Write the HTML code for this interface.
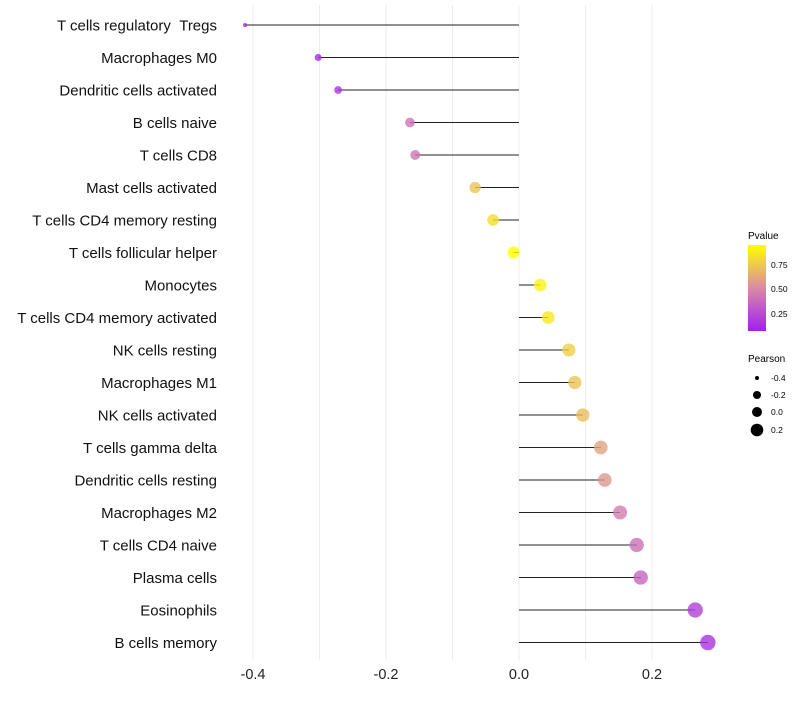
<!DOCTYPE html>
<html><head><meta charset="utf-8"><style>
body{margin:0;background:#fff;font-family:"Liberation Sans",sans-serif}
</style></head><body>
<svg id="chart" width="800" height="700" xmlns="http://www.w3.org/2000/svg" font-family="Liberation Sans, sans-serif">
<defs><linearGradient id="pg" x1="0" y1="1" x2="0" y2="0">
<stop offset="0" stop-color="#a020f0"/><stop offset="0.5" stop-color="#d98aa6"/><stop offset="1" stop-color="#ffff00"/>
</linearGradient></defs>
<g id="grid"></g><g id="marks"></g><g id="labels"></g><g id="ticks"></g>
<g>
<text x="748" y="239" font-size="10">Pvalue</text>
<rect x="748" y="245" width="18" height="86" fill="url(#pg)"/>
<text x="771" y="268" font-size="8.5">0.75</text>
<text x="771" y="292" font-size="8.5">0.50</text>
<text x="771" y="317" font-size="8.5">0.25</text>
</g>
<g>
<text x="748" y="362" font-size="10">Pearson</text>
<circle cx="757" cy="378" r="2"/><text x="771" y="381" font-size="8.5">-0.4</text>
<circle cx="757" cy="395" r="4"/><text x="771" y="398" font-size="8.5">-0.2</text>
<circle cx="757" cy="412" r="5"/><text x="771" y="415" font-size="8.5">0.0</text>
<circle cx="757" cy="430" r="6.3"/><text x="771" y="433" font-size="8.5">0.2</text>
</g>
</svg>
<script>
const categories=["T cells regulatory\u00a0\u00a0Tregs","Macrophages M0","Dendritic cells activated","B cells naive","T cells CD8","Mast cells activated","T cells CD4 memory resting","T cells follicular helper","Monocytes","T cells CD4 memory activated","NK cells resting","Macrophages M1","NK cells activated","T cells gamma delta","Dendritic cells resting","Macrophages M2","T cells CD4 naive","Plasma cells","Eosinophils","B cells memory"];
const pearson=[-0.412,-0.302,-0.272,-0.164,-0.156,-0.066,-0.039,-0.008,0.032,0.044,0.075,0.084,0.096,0.123,0.129,0.152,0.177,0.183,0.265,0.284];
const pvalue=[0.08,0.12,0.15,0.42,0.42,0.72,0.82,0.95,0.9,0.86,0.76,0.72,0.7,0.6,0.56,0.45,0.4,0.35,0.2,0.15];
const xTicks=[-0.4,-0.2,0.0,0.2];
const xTickLabels=["-0.4","-0.2","0.0","0.2"];
const minorTicks=[-0.3,-0.1,0.1];
const NS="http://www.w3.org/2000/svg";
const x=v=>519+v*665;
const y=i=>25+i*32.5;
function mk(t,a,p){const e=document.createElementNS(NS,t);for(const k in a)e.setAttribute(k,a[k]);p.appendChild(e);return e;}
function lerp(a,b,t){return a.map((v,i)=>Math.round(v+(b[i]-v)*t));}
function col(p){const t=Math.max(0,Math.min(1,(p-0.07)/(0.94-0.07)));const A=[160,32,240],M=[217,138,166],Y=[255,255,0];const c=t<0.5?lerp(A,M,t*2):lerp(M,Y,(t-0.5)*2);return `rgb(${c})`;}
const grid=document.getElementById('grid'),marks=document.getElementById('marks'),labels=document.getElementById('labels'),ticks=document.getElementById('ticks');
minorTicks.concat(xTicks).forEach(v=>{const l=mk('line',{x1:x(v),x2:x(v),y1:5,y2:660,stroke:'#ececec','stroke-width':1},grid);

});
xTicks.forEach((v,i)=>{const t=mk('text',{x:x(v),y:679,'font-size':14.5,'text-anchor':'middle',fill:'#222'},ticks);t.textContent=xTickLabels[i];

});
categories.forEach((c,i)=>{
const t=mk('text',{x:217,y:y(i)+5.5,'font-size':15,'text-anchor':'end',fill:'#111'},labels);t.textContent=c;


const l=mk('line',{x1:x(0),x2:x(pearson[i]),y1:y(i),y2:y(i),stroke:'#222','stroke-width':1.1},marks);


const r=Math.sqrt(4+80*(pearson[i]+0.412));
const d=mk('circle',{cx:x(pearson[i]),cy:y(i),r:r,fill:col(pvalue[i]),'fill-opacity':0.8},marks);


});
</script>
</body></html>
